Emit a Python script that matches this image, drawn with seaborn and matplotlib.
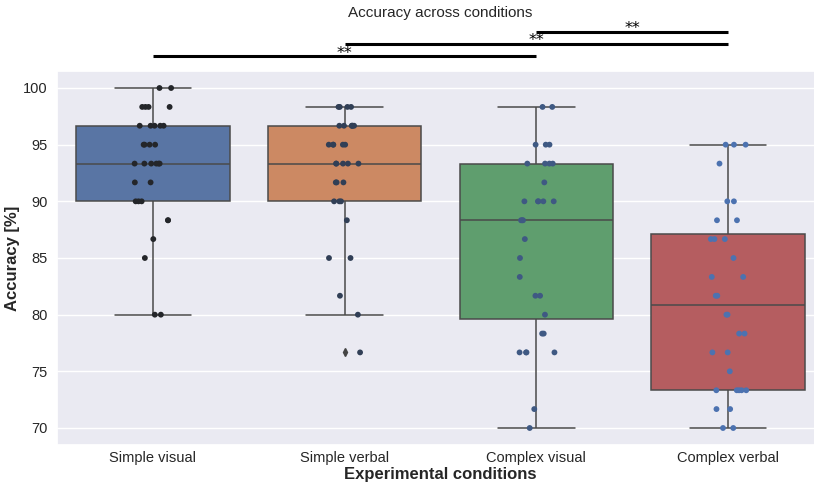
import numpy as np
import pandas as pd
import matplotlib
matplotlib.use("Agg")
import matplotlib.pyplot as plt
import seaborn as sns

conditions = ["Simple visual", "Simple verbal", "Complex visual", "Complex verbal"]

# accuracy values (percent), grid of 1/60
simple_visual = [80, 80, 85, 86.67, 88.33, 88.33, 90, 90, 90, 91.67, 91.67,
                 93.33, 93.33, 93.33, 93.33, 93.33, 93.33, 95, 95, 95, 95,
                 96.67, 96.67, 96.67, 96.67, 96.67, 98.33, 98.33, 98.33, 98.33,
                 100, 100]
simple_verbal = [76.67, 80, 81.67, 85, 85, 88.33, 90, 90, 90, 91.67, 91.67, 91.67,
                 93.33, 93.33, 93.33, 93.33, 93.33, 95, 95, 95, 95, 95,
                 96.67, 96.67, 96.67, 96.67, 96.67, 96.67, 98.33, 98.33, 98.33, 98.33]
complex_visual = [70, 71.67, 76.67, 76.67, 76.67, 76.67, 78.33, 78.33, 80,
                  81.67, 81.67, 83.33, 85, 86.67, 88.33, 88.33, 88.33,
                  90, 90, 90, 90, 90, 91.67, 93.33, 93.33, 93.33, 93.33,
                  95, 95, 95, 98.33, 98.33]
complex_verbal = [70, 70, 71.67, 71.67, 73.33, 73.33, 73.33, 73.33, 73.33, 75,
                  76.67, 76.67, 78.33, 78.33, 80, 80, 81.67, 81.67, 83.33, 83.33,
                  85, 86.67, 86.67, 86.67, 88.33, 88.33, 90, 90, 93.33, 95, 95, 95]

# significance comparisons (index pairs) and labels
sig_pairs = [(0, 2), (1, 3), (2, 3)]
sig_labels = ["**", "**", "**"]
sig_heights = [102.8, 103.9, 104.95]

values = [simple_visual, simple_verbal, complex_visual, complex_verbal]
df = pd.DataFrame({
    "condition": np.concatenate([[c] * len(v) for c, v in zip(conditions, values)]),
    "acc": np.concatenate(values),
})

sns.set_theme(style="darkgrid")
plt.rcParams["font.family"] = ["Liberation Sans", "DejaVu Sans"]

fig = plt.figure(figsize=(8.14, 4.84), dpi=100)
ax = fig.add_axes([57 / 814, 39 / 484, 767 / 814, 374 / 484])

sns.boxplot(data=df, x="condition", y="acc", hue="condition", order=conditions,
            hue_order=conditions, palette="deep", saturation=0.75, legend=False,
            linewidth=1.1, linecolor="#4a4a4a", width=0.8,
            flierprops=dict(marker="d", markersize=4, markerfacecolor="#444",
                            markeredgecolor="#444"), ax=ax)
np.random.seed(3)
sns.stripplot(data=df, x="condition", y="acc", hue="condition", order=conditions,
              hue_order=conditions, palette="dark:#4C72B0", size=4.2, jitter=0.1,
              legend=False, ax=ax)

ax.set_ylim(68.5, 101.5)
ax.set_xlim(-0.5, 3.5)
ax.set_yticks([70, 75, 80, 85, 90, 95, 100])
ax.tick_params(axis="x", labelsize=10.5, pad=4.5, length=0)
ax.tick_params(axis="y", labelsize=10.5, pad=7, length=0)
ax.set_xlabel("Experimental conditions", fontsize=12, fontweight="bold", labelpad=1)
ax.set_ylabel("Accuracy [%]", fontsize=12, fontweight="bold", labelpad=2)
ax.set_title("Accuracy across conditions", fontsize=11, pad=39)

for (a, b), lab, h in zip(sig_pairs, sig_labels, sig_heights):
    ax.plot([a, b], [h, h], color="black", lw=2.2, clip_on=False, solid_capstyle="butt")
    ax.text((a + b) / 2, h - 0.12, lab, ha="center", va="baseline", fontsize=11.5,
            family="DejaVu Sans", color="black", clip_on=False)

fig.savefig("out.png", dpi=100)
